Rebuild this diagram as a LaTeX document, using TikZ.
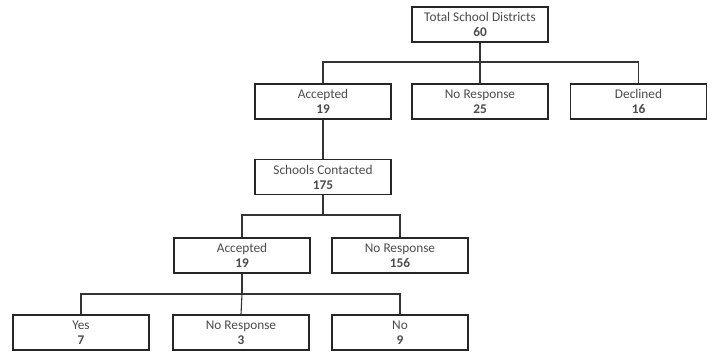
\documentclass[tikz,border=0pt]{standalone}
\usepackage{fontspec}
\setmainfont{Carlito}
\begin{document}
\begin{tikzpicture}[x=1pt,y=-1pt,
  box/.style={draw=black!85, line width=1.1pt, fill=white, minimum width=136pt, minimum height=35pt,
    align=center, font=\fontsize{13.3}{15}\selectfont, text=black!70, inner sep=1pt},
  link/.style={draw=black!80, line width=1.1pt}]
\useasboundingbox (0,0) rectangle (714,353);
\node[box] (top) at (480,24.5) {Total School Districts\\\textbf{60}};
\node[box] (acc1) at (323,101.5) {Accepted\\\textbf{19}};
\node[box] (nr25) at (480,101.5) {No Response\\\textbf{25}};
\node[box] (dec) at (638.5,101.5) {Declined\\\textbf{16}};
\node[box] (sch) at (323,177) {Schools Contacted\\\textbf{175}};
\node[box] (acc2) at (242,255.5) {Accepted\\\textbf{19}};
\node[box] (nr156) at (400,255.5) {No Response\\\textbf{156}};
\node[box] (yes) at (81,332.5) {Yes\\\textbf{7}};
\node[box] (nr3) at (241,332.5) {No Response\\\textbf{3}};
\node[box] (no) at (400,332.5) {No\\\textbf{9}};
\coordinate (j1) at (480,62);
\coordinate (j2) at (323,215);
\coordinate (j3) at (242,294);
\draw[link] (top.south) -- (j1);
\draw[link] (j1) -| (acc1.north);
\draw[link] (j1) -- (nr25.north);
\draw[link] (j1) -| (dec.north);
\draw[link] (acc1.south) -- (sch.north);
\draw[link] (sch.south) -- (j2);
\draw[link] (j2) -| (acc2.north);
\draw[link] (j2) -| (nr156.north);
\draw[link] (acc2.south) -- (j3);
\draw[link] (j3) -| (yes.north);
\draw[link] (j3) -- (nr3.north);
\draw[link] (j3) -| (no.north);
\end{tikzpicture}
\end{document}
